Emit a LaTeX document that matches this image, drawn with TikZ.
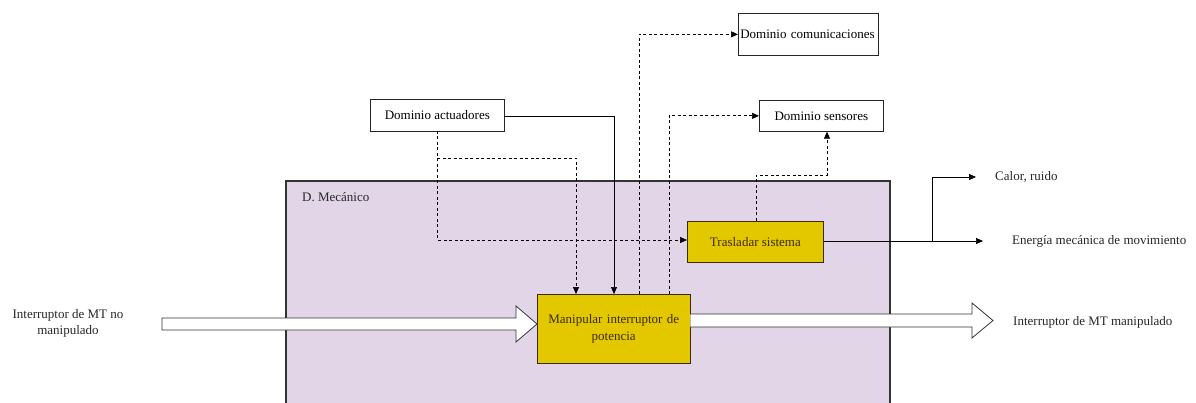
\documentclass[tikz,border=0pt]{standalone}
\usepackage{fontspec}
\setmainfont{Liberation Serif}[Ligatures=TeX]
\newfontfamily\diagfont{Liberation Serif}
\usetikzlibrary{arrows.meta}
\definecolor{mechfill}{HTML}{E1D5E7}
\definecolor{funcfill}{HTML}{E3C800}
\definecolor{funcline}{HTML}{3A2A10}
\definecolor{functext}{HTML}{3D2B00}
\begin{document}
\begin{tikzpicture}[x=1pt,y=-1pt,
  font=\diagfont\fontsize{13}{15}\selectfont,
  domainbox/.style={draw=black!85,line width=0.7pt,fill=white,minimum height=32pt,inner sep=2pt},
  funcbox/.style={draw=funcline,line width=0.8pt,fill=funcfill,text=functext,align=center},
  lbl/.style={inner sep=0pt,text=black!85},
  flow/.style={line width=0.7pt,-{Triangle[length=7pt,width=6pt]}},
  info/.style={flow,dash pattern=on 3pt off 2.5pt},
  bigarrow/.style={draw=black!80,line width=0.8pt,fill=white}]
\useasboundingbox (0,0) rectangle (1196,403);
\clip (0,0) rectangle (1196,403);

% mechanical domain container
\draw[draw=black!80,line width=1.6pt,fill=mechfill] (286,181) rectangle (890,420);
\node[lbl,anchor=west] (mech) at (302,197) {D. Mecánico};

% neighbouring domains
\node[domainbox,minimum width=140pt,text width=136pt,minimum height=42pt,anchor=north west] (com) at (738,13) {Dominio comunicaciones};
\node[domainbox,minimum width=134pt,anchor=north west] (act) at (370,99) {Dominio actuadores};
\node[domainbox,minimum width=124pt,minimum height=31pt,anchor=north west] (sen) at (759,100) {Dominio sensores};

% functions
\node[funcbox,minimum width=136pt,minimum height=41pt,anchor=north west] (tras) at (687,221) {Trasladar sistema};
\node[funcbox,minimum width=152pt,minimum height=69pt,text width=146pt,anchor=north west] (man) at (537,294) {Manipular interruptor de\\[2pt]potencia};

% external flows
\node[lbl,align=center] (inMT) at (68,323) {Interruptor de MT no\\[1pt]manipulado};
\node[lbl,anchor=west] (outMT) at (1013,322) {Interruptor de MT manipulado};
\node[lbl,anchor=west] (heat) at (995,177) {Calor, ruido};
\node[lbl,anchor=west] (energy) at (1012,241) {Energía mecánica de movimiento};

% material flow arrows (hollow)
\draw[bigarrow] (162,318) -- (516,318) -- (516,306) -- (man.west |- 0,324) -- (516,342) -- (516,330) -- (162,330) -- cycle;
\draw[bigarrow] (man.east |- 0,314) -- (972,314) -- (972,303) -- (993,320.5) -- (972,338) -- (972,327) -- (man.east |- 0,327);

% control and signal lines
\coordinate (a1) at (437,131);
\coordinate (a2) at (437,158);
\draw[flow] (act.east |- 0,116) -| (man.north -| 614,0);
\draw[info] (a1) |- (tras.west |- 0,240);
\draw[info] (a2) -| (man.north -| 576,0);
\draw[info] (man.north -| 639,0) |- (com.west);
\draw[info] (man.north -| 669,0) |- (sen.west);
\draw[info] (tras.north -| 756,0) |- (827,175) -- (sen.south -| 827,0);

% energy outputs
\coordinate (e1) at (932,241);
\draw[flow] (tras.east |- 0,241) -- (983,241);
\draw[flow] (e1) |- (976,177);
\end{tikzpicture}
\end{document}
